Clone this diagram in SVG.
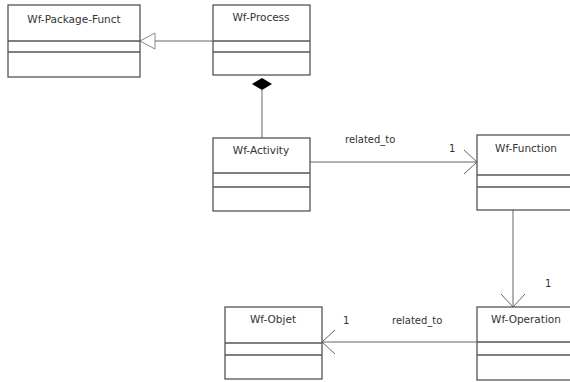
<svg xmlns="http://www.w3.org/2000/svg" width="570" height="382" viewBox="0 0 570 382">
<style>
.box{fill:#fff;stroke:#555;stroke-width:1.3}
.div{stroke:#555;stroke-width:1.3}
.t{font-family:"DejaVu Sans",sans-serif;font-size:10.5px;fill:#333;text-anchor:middle}
.l{font-family:"DejaVu Sans",sans-serif;font-size:10px;fill:#333}
.c{stroke:#666;stroke-width:1;fill:none}
</style>
<defs>
<marker id="open" markerWidth="14" markerHeight="26" refX="13" refY="13" orient="auto" markerUnits="userSpaceOnUse">
<path d="M0,1 L13,13 L0,25" fill="none" stroke="#666" stroke-width="1"/>
</marker>
</defs>
<rect width="570" height="382" fill="#fff"/>
<g id="connectors">
<line class="c" x1="213" y1="41" x2="155" y2="41" stroke="#aaa"/>
<path d="M140,41 L155,33 L155,49 Z" fill="#fff" stroke="#888" stroke-width="1"/>
<path d="M262,78 L272,84 L262,90 L252,84 Z" fill="#000"/>
<line class="c" x1="262" y1="90" x2="262" y2="138" stroke="#333"/>
<line class="c" x1="310" y1="162" x2="477" y2="162" marker-end="url(#open)" stroke="#999"/>
<line class="c" x1="513" y1="210" x2="513" y2="307" marker-end="url(#open)" stroke="#444"/>
<line class="c" x1="477" y1="342" x2="322" y2="342" marker-end="url(#open)" stroke="#666"/>
<text class="l" x="345" y="143">related_to</text>
<text class="l" x="449" y="152">1</text>
<text class="l" x="545" y="287">1</text>
<text class="l" x="343" y="324">1</text>
<text class="l" x="392" y="324">related_to</text>
</g>
<g id="wf-package-funct">
<rect class="box" x="8" y="5" width="132" height="72"/>
<line class="div" x1="8" y1="41" x2="140" y2="41"/>
<line class="div" x1="8" y1="52" x2="140" y2="52"/>
<text class="t" x="74" y="23">Wf-Package-Funct</text>
</g>
<g id="wf-process">
<rect class="box" x="213" y="5" width="97" height="70"/>
<line class="div" x1="213" y1="41" x2="310" y2="41"/>
<line class="div" x1="213" y1="52" x2="310" y2="52"/>
<text class="t" x="261" y="21">Wf-Process</text>
</g>
<g id="wf-activity">
<rect class="box" x="213" y="138" width="97" height="73"/>
<line class="div" x1="213" y1="173" x2="310" y2="173"/>
<line class="div" x1="213" y1="187" x2="310" y2="187"/>
<text class="t" x="261" y="154">Wf-Activity</text>
</g>
<g id="wf-function">
<rect class="box" x="477" y="135" width="100" height="75"/>
<line class="div" x1="477" y1="175" x2="577" y2="175"/>
<line class="div" x1="477" y1="187" x2="577" y2="187"/>
<text class="t" x="526" y="152">Wf-Function</text>
</g>
<g id="wf-operation">
<rect class="box" x="477" y="307" width="100" height="73"/>
<line class="div" x1="477" y1="342" x2="577" y2="342"/>
<line class="div" x1="477" y1="355" x2="577" y2="355"/>
<text class="t" x="526" y="323">Wf-Operation</text>
</g>
<g id="wf-objet">
<rect class="box" x="225" y="307" width="97" height="72"/>
<line class="div" x1="225" y1="343" x2="322" y2="343"/>
<line class="div" x1="225" y1="355" x2="322" y2="355"/>
<text class="t" x="273" y="323">Wf-Objet</text>
</g>
</svg>
